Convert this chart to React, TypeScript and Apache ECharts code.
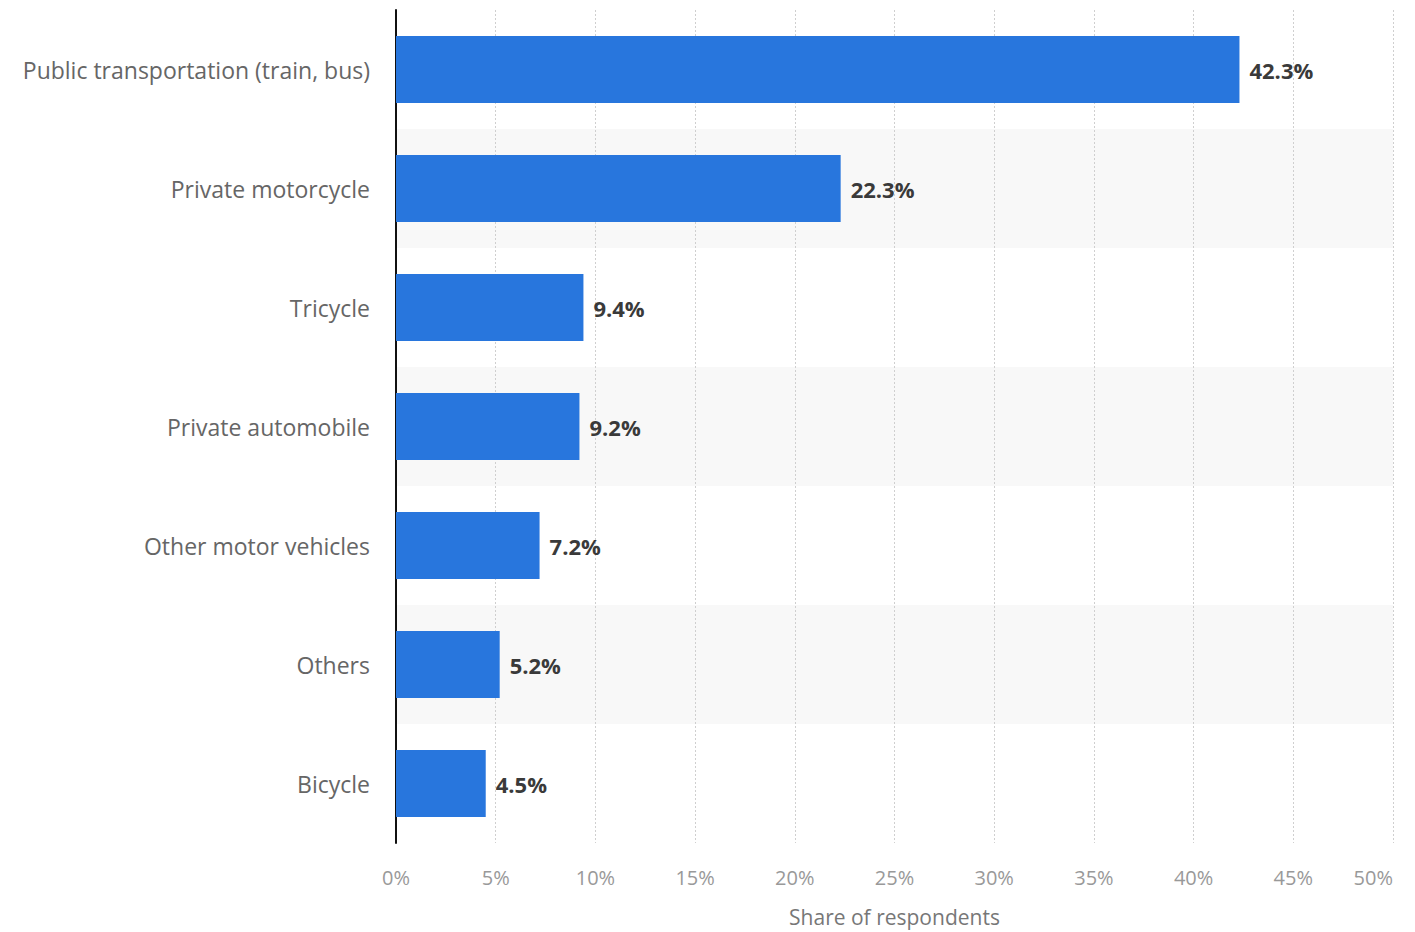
import React, { useEffect, useRef } from "react";
import * as echarts from "echarts";

const categories = [
  "Public transportation (train, bus)",
  "Private motorcycle",
  "Tricycle",
  "Private automobile",
  "Other motor vehicles",
  "Others",
  "Bicycle",
];
const shares = [42.3, 22.3, 9.4, 9.2, 7.2, 5.2, 4.5];
const axisMin = 0;
const axisMax = 50;
const axisStep = 5;
const axisTitle = "Share of respondents";

const FONT = "'Open Sans', 'Noto Sans', sans-serif";

export default function App() {
  const ref = useRef<HTMLDivElement>(null);
  useEffect(() => {
    if (!ref.current) return;
    const chart = echarts.init(ref.current, undefined, { renderer: "svg" });
    chart.setOption({
      animation: false,
      backgroundColor: "#ffffff",
      grid: { left: 396, right: 22, top: 10, bottom: 87, containLabel: false },
      xAxis: {
        type: "value",
        min: axisMin,
        max: axisMax,
        interval: axisStep,
        name: axisTitle,
        nameLocation: "middle",
        nameGap: 63,
        nameTextStyle: { color: "#777", fontSize: 21, fontFamily: FONT },
        axisLine: { show: false },
        axisTick: { show: false },
        axisLabel: {
          color: "#999",
          fontSize: 20,
          fontFamily: FONT,
          margin: 24,
          formatter: "{value}%",
          alignMaxLabel: "right",
        },
        splitLine: {
          show: true,
          lineStyle: { color: "#cfcfcf", type: [2, 2], width: 1 },
        },
      },
      yAxis: {
        type: "category",
        data: categories,
        inverse: true,
        axisLine: { show: true, lineStyle: { color: "#111", width: 2 } },
        axisTick: { show: false },
        axisLabel: {
          color: "#666",
          fontSize: 23,
          fontFamily: FONT,
          margin: 26,
        },
        splitLine: { show: false },
        splitArea: {
          show: true,
          areaStyle: { color: ["rgba(255,255,255,0)", "#f8f8f8"] },
        },
      },
      series: [
        {
          type: "bar",
          data: shares,
          barWidth: 67,
          itemStyle: { color: "#2876dd" },
          label: {
            show: true,
            position: "right",
            distance: 10,
            formatter: "{c}%",
            color: "#3a3a3a",
            fontWeight: "bold",
            fontSize: 22,
            fontFamily: FONT,
          },
        },
      ],
    });
    return () => chart.dispose();
  }, []);
  return (
    <div
      ref={ref}
      style={{ position: "absolute", left: 0, top: 0, width: 1415, height: 932 }}
    />
  );
}
